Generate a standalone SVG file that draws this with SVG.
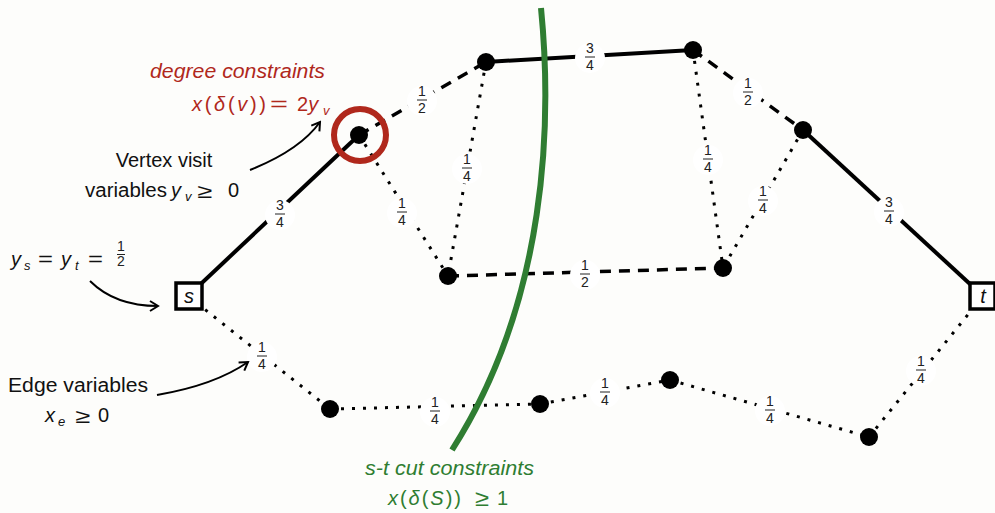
<svg xmlns="http://www.w3.org/2000/svg" width="995" height="513" viewBox="0 0 995 513">
<defs>
<style>
.solid{stroke:#000;stroke-width:4;fill:none}
.dash{stroke:#000;stroke-width:3.5;fill:none;stroke-dasharray:11 8}
.dot{stroke:#000;stroke-width:3;fill:none;stroke-dasharray:3 8}
.node{fill:#000}
.lbg{fill:#fff}
.fr{font-family:"Liberation Sans",Arial,sans-serif;font-size:14px;fill:#222;text-anchor:middle}
.bar{stroke:#222;stroke-width:1}
.txt{font-family:"Liberation Sans",Arial,sans-serif;font-size:20px;fill:#111}
.it{font-style:italic}
.sub{font-size:13px}
.red{fill:#b0281c}
.green{fill:#2f7d32}
.arrow{stroke:#000;stroke-width:2;fill:none}
</style>
<marker id="ah" viewBox="0 0 12 12" refX="10" refY="6" markerWidth="12" markerHeight="12" markerUnits="userSpaceOnUse" orient="auto">
<path d="M2,1 L10,6 L2,11" fill="none" stroke="#000" stroke-width="2"/>
</marker>
</defs>
<rect width="995" height="513" fill="#fdfdfb"/>

<g id="connectors">
<line class="solid" x1="188" y1="296" x2="359" y2="135"/>
<line class="dash" x1="359" y1="135" x2="486" y2="62"/>
<line class="dot" x1="359" y1="135" x2="448" y2="276"/>
<line class="dot" x1="486" y1="62" x2="448" y2="276"/>
<line class="solid" x1="486" y1="62" x2="693" y2="50"/>
<line class="dash" x1="693" y1="50" x2="803" y2="130"/>
<line class="dot" x1="693" y1="50" x2="723" y2="268"/>
<line class="dot" x1="803" y1="130" x2="723" y2="268"/>
<line class="solid" x1="803" y1="130" x2="983" y2="296"/>
<line class="dash" x1="448" y1="276" x2="723" y2="268"/>
<line class="dot" x1="188" y1="296" x2="330" y2="409"/>
<line class="dot" x1="330" y1="409" x2="540" y2="404"/>
<line class="dot" x1="540" y1="404" x2="670" y2="380"/>
<line class="dot" x1="670" y1="380" x2="869" y2="437"/>
<line class="dot" x1="869" y1="437" x2="983" y2="296"/>
</g>

<g id="edge-labels">
<g id="l-sv"><circle class="lbg" cx="280" cy="215" r="15"/><text class="fr" x="280" y="210">3</text><line class="bar" x1="275" y1="214" x2="285" y2="214"/><text class="fr" x="280" y="227">4</text></g>
<g id="l-va"><circle class="lbg" cx="422" cy="101" r="15"/><text class="fr" x="422" y="96">1</text><line class="bar" x1="417" y1="100" x2="427" y2="100"/><text class="fr" x="422" y="113">2</text></g>
<g id="l-vd"><circle class="lbg" cx="402" cy="213" r="15"/><text class="fr" x="402" y="208">1</text><line class="bar" x1="397" y1="212" x2="407" y2="212"/><text class="fr" x="402" y="225">4</text></g>
<g id="l-ad"><circle class="lbg" cx="467" cy="169" r="15"/><text class="fr" x="467" y="164">1</text><line class="bar" x1="462" y1="168" x2="472" y2="168"/><text class="fr" x="467" y="181">4</text></g>
<g id="l-ab"><circle class="lbg" cx="590" cy="58" r="15"/><text class="fr" x="590" y="53">3</text><line class="bar" x1="585" y1="57" x2="595" y2="57"/><text class="fr" x="590" y="70">4</text></g>
<g id="l-bc"><circle class="lbg" cx="748" cy="93" r="15"/><text class="fr" x="748" y="88">1</text><line class="bar" x1="743" y1="92" x2="753" y2="92"/><text class="fr" x="748" y="105">2</text></g>
<g id="l-be"><circle class="lbg" cx="708" cy="160" r="15"/><text class="fr" x="708" y="155">1</text><line class="bar" x1="703" y1="159" x2="713" y2="159"/><text class="fr" x="708" y="172">4</text></g>
<g id="l-ce"><circle class="lbg" cx="763" cy="201" r="15"/><text class="fr" x="763" y="196">1</text><line class="bar" x1="758" y1="200" x2="768" y2="200"/><text class="fr" x="763" y="213">4</text></g>
<g id="l-ct"><circle class="lbg" cx="889" cy="212" r="15"/><text class="fr" x="889" y="207">3</text><line class="bar" x1="884" y1="211" x2="894" y2="211"/><text class="fr" x="889" y="224">4</text></g>
<g id="l-de"><circle class="lbg" cx="585" cy="275" r="15"/><text class="fr" x="585" y="270">1</text><line class="bar" x1="580" y1="274" x2="590" y2="274"/><text class="fr" x="585" y="287">2</text></g>
<g id="l-sf"><circle class="lbg" cx="262" cy="357" r="15"/><text class="fr" x="262" y="352">1</text><line class="bar" x1="257" y1="356" x2="267" y2="356"/><text class="fr" x="262" y="369">4</text></g>
<g id="l-fg"><circle class="lbg" cx="435" cy="412" r="15"/><text class="fr" x="435" y="407">1</text><line class="bar" x1="430" y1="411" x2="440" y2="411"/><text class="fr" x="435" y="424">4</text></g>
<g id="l-gh"><circle class="lbg" cx="605" cy="393" r="15"/><text class="fr" x="605" y="388">1</text><line class="bar" x1="600" y1="392" x2="610" y2="392"/><text class="fr" x="605" y="405">4</text></g>
<g id="l-hi"><circle class="lbg" cx="770" cy="411" r="15"/><text class="fr" x="770" y="406">1</text><line class="bar" x1="765" y1="410" x2="775" y2="410"/><text class="fr" x="770" y="423">4</text></g>
<g id="l-it"><circle class="lbg" cx="921" cy="371" r="15"/><text class="fr" x="921" y="366">1</text><line class="bar" x1="916" y1="370" x2="926" y2="370"/><text class="fr" x="921" y="383">4</text></g>
</g>

<g id="node-s"><rect x="176" y="283" width="26" height="26" fill="#fff" stroke="#000" stroke-width="3.5"/><text class="txt it" x="189" y="303" text-anchor="middle" font-size="18">s</text></g>
<g id="node-t"><rect x="970" y="283" width="25" height="26" fill="#fff" stroke="#000" stroke-width="3.5"/><text class="txt it" x="983" y="303" text-anchor="middle" font-size="18">t</text></g>
<g id="node-v"><circle class="node" cx="359" cy="135" r="9"/></g>
<g id="node-a"><circle class="node" cx="486" cy="62" r="9"/></g>
<g id="node-b"><circle class="node" cx="693" cy="50" r="9"/></g>
<g id="node-c"><circle class="node" cx="803" cy="130" r="9"/></g>
<g id="node-d"><circle class="node" cx="448" cy="276" r="9"/></g>
<g id="node-e"><circle class="node" cx="723" cy="268" r="9"/></g>
<g id="node-f"><circle class="node" cx="330" cy="409" r="9"/></g>
<g id="node-g"><circle class="node" cx="540" cy="404" r="9"/></g>
<g id="node-h"><circle class="node" cx="670" cy="380" r="9"/></g>
<g id="node-i"><circle class="node" cx="869" cy="437" r="9"/></g>

<g id="degree-ring"><circle cx="360" cy="135" r="26" fill="none" stroke="#b0281c" stroke-width="6"/></g>

<g id="cut-curve"><path d="M541,8 C552,120 548,300 452,450" fill="none" stroke="#2f7d32" stroke-width="6"/></g>

<g id="annotations">
<path class="arrow" d="M250,170 Q300,150 320,122" marker-end="url(#ah)"/>
<path class="arrow" d="M90,281 Q115,306 158,306" marker-end="url(#ah)"/>
<path class="arrow" d="M157,395 Q215,385 248,362" marker-end="url(#ah)"/>

<text class="txt it red" x="150" y="78" textLength="175" lengthAdjust="spacingAndGlyphs">degree constraints</text>
<g class="txt red">
<text x="192" y="111" textLength="74" lengthAdjust="spacing"><tspan class="it">x</tspan>(<tspan class="it">δ</tspan>(<tspan class="it">v</tspan>))</text>
<text x="270" y="111" textLength="18" lengthAdjust="spacingAndGlyphs">=</text>
<text x="297" y="111">2<tspan class="it">y</tspan></text>
<text class="it sub" x="323" y="115">v</text>
</g>

<text class="txt" x="164" y="167" text-anchor="middle">Vertex visit</text>
<text class="txt" x="85" y="197" textLength="82" lengthAdjust="spacingAndGlyphs">variables</text>
<text class="txt it" x="171" y="197">y</text>
<text class="txt it sub" x="185" y="201">v</text>
<text class="txt" x="197" y="198" font-size="23" textLength="15" lengthAdjust="spacingAndGlyphs">≥</text>
<text class="txt" x="228" y="197">0</text>

<text class="txt it" x="11" y="266">y</text>
<text class="txt it sub" x="24" y="270">s</text>
<text class="txt" x="38" y="266" textLength="15" lengthAdjust="spacingAndGlyphs">=</text>
<text class="txt it" x="61" y="266">y</text>
<text class="txt it sub" x="75" y="270">t</text>
<text class="txt" x="88" y="266" textLength="15" lengthAdjust="spacingAndGlyphs">=</text>
<text class="fr" x="121" y="251" font-size="10">1</text><line class="bar" x1="117" y1="254.5" x2="125" y2="254.5"/><text class="fr" x="121" y="266" font-size="10">2</text>

<text class="txt" x="8" y="392" textLength="140" lengthAdjust="spacingAndGlyphs">Edge variables</text>
<text class="txt it" x="45" y="422">x</text>
<text class="txt it sub" x="58" y="426">e</text>
<text class="txt" x="75" y="423" font-size="23" textLength="15" lengthAdjust="spacingAndGlyphs">≥</text>
<text class="txt" x="98" y="422">0</text>

<text class="txt it green" x="365" y="475" textLength="169" lengthAdjust="spacingAndGlyphs">s-t cut constraints</text>
<g class="txt green">
<text x="388" y="505" textLength="73" lengthAdjust="spacing"><tspan class="it">x</tspan>(<tspan class="it">δ</tspan>(<tspan class="it">S</tspan>))</text>
<text x="475" y="506" font-size="23" textLength="14" lengthAdjust="spacingAndGlyphs">≥</text>
<text x="497" y="505">1</text>
</g>
</g>
</svg>
